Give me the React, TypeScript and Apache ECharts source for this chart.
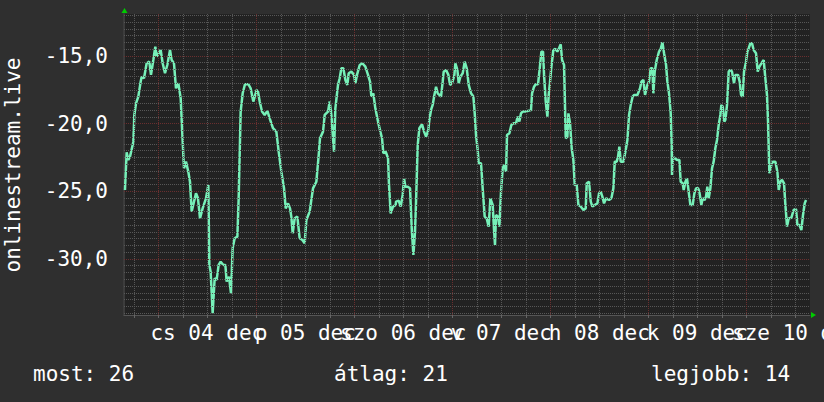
import React, { useEffect, useRef } from "react";
import * as echarts from "echarts";

// hours since 3 Dec 00:00, and readings (one block per screen slice)
const hoursA = [
  15.84, 16.25, 16.66, 17.07, 17.72, 17.89, 18.13, 18.54, 19.11, 19.68,
  19.93, 20.5, 21.15, 21.8, 22.21, 22.78, 23.27, 23.6, 24.58, 25.07,
  25.64, 26.21, 26.87, 27.27, 27.84, 28.33, 28.91, 29.48, 29.89, 30.29,
  30.78, 31.35, 31.76, 32.17, 33.23, 33.72, 34.21, 34.86, 35.68, 36.25,
  36.5, 36.82, 37.31, 37.8, 38.29, 38.78, 39.27, 39.93, 40.42, 40.74,
  41.31, 41.8, 42.21, 42.7, 43.36, 43.68, 44.17, 44.66, 45.23, 46.05,
  46.62, 47.27, 48.09,
];
const valuesA = [
  -24.9, -22.12, -22.68, -22.44, -21.58, -21.33, -19.36, -18.5, -18.0, -16.9,
  -16.53, -16.65, -15.54, -15.42, -16.4, -15.3, -14.31, -15.05, -14.56, -15.54,
  -16.28, -15.67, -14.56, -15.3, -15.54, -17.39, -17.02, -18.13, -20.84, -23.3,
  -22.81, -23.55, -24.29, -26.5, -25.15, -25.52, -27.0, -26.26, -25.52, -24.53,
  -30.44, -30.94, -34.01, -31.43, -31.55, -30.44, -30.2, -30.44, -30.44, -31.67,
  -31.31, -32.54, -29.21, -28.47, -28.35, -25.52, -19.11, -17.76, -17.09, -17.09,
  -17.39, -18.37, -17.51,
];
const hoursB = [
  48.42, 48.83, 49.4, 50.05, 50.71, 51.28, 52.09, 52.91, 53.48, 54.13,
  54.79, 55.2, 55.77, 56.26, 56.58, 56.91, 57.4, 58.05, 58.62, 59.28,
  59.85, 60.26, 61.07, 61.89, 62.71, 63.28, 63.6, 64.34, 64.75, 65.56,
  65.97, 66.38, 67.03, 67.36, 68.01, 68.42, 68.83, 69.32, 69.81, 70.3,
  70.62, 71.28, 71.93, 72.26, 72.66, 73.32, 73.97, 74.71, 75.36, 75.85,
  76.18, 76.66, 77.15, 77.81, 78.38, 78.79, 79.11, 79.69, 80.26, 80.5,
  80.91, 81.48, 82.13,
];
const valuesB = [
  -17.64, -18.37, -19.11, -19.36, -19.06, -19.61, -20.34, -20.59, -22.07, -23.55,
  -24.78, -26.26, -25.89, -26.26, -26.87, -28.1, -27.0, -26.87, -28.47, -28.6,
  -28.84, -27.12, -26.5, -24.78, -24.29, -22.32, -21.08, -20.59, -19.36, -19.11,
  -18.37, -19.36, -22.07, -18.87, -17.14, -16.65, -15.91, -15.91, -16.77, -17.14,
  -16.28, -16.16, -16.4, -17.02, -16.4, -15.67, -15.54, -15.79, -16.4, -16.9,
  -18.0, -17.76, -18.87, -19.85, -20.59, -21.08, -22.19, -22.07, -22.56, -24.53,
  -26.63, -26.13, -26.01,
];
const hoursC = [
  82.22, 82.87, 83.36, 83.85, 84.18, 84.51, 85.08, 85.65, 86.06, 86.47,
  86.87, 87.12, 87.53, 87.93, 88.59, 89.08, 89.57, 90.14, 90.38, 90.79,
  91.2, 91.61, 92.02, 92.42, 92.83, 93.24, 93.65, 93.89, 94.46, 95.04,
  95.44, 95.93, 96.51, 96.75, 97.24, 97.57, 97.98, 98.55, 99.04, 99.53,
  100.02, 100.59, 101.16, 101.49, 101.81, 102.22, 102.46, 103.04, 103.44, 103.93,
  104.42, 104.91, 105.32, 105.89, 106.22, 106.46, 106.71, 107.2, 107.53, 107.93,
  108.34, 108.75, 109.16, 109.4, 109.98, 110.46, 110.96, 111.61, 112.02, 112.42,
  112.83, 113.24, 114.06, 114.71, 115.28, 115.53,
];
const valuesC = [
  -25.76, -25.69, -26.13, -25.27, -24.04, -24.66, -24.66, -24.78, -27.73, -29.7,
  -27.98, -25.76, -21.58, -20.34, -20.05, -20.59, -20.96, -20.47, -19.73, -18.99,
  -18.62, -17.88, -17.27, -17.76, -17.88, -18.0, -16.9, -16.16, -16.03, -16.4,
  -17.14, -17.02, -16.4, -15.54, -16.03, -17.02, -16.53, -16.28, -15.42, -15.91,
  -17.14, -17.76, -18.0, -19.24, -20.84, -21.95, -22.93, -22.93, -24.78, -26.87,
  -27.0, -27.61, -25.52, -26.01, -27.86, -28.97, -26.75, -26.87, -27.61, -25.02,
  -23.3, -23.05, -23.55, -20.84, -20.71, -20.1, -19.98, -19.98, -19.48, -19.85,
  -19.24, -19.11, -19.11, -19.04, -18.99, -17.76,
];
const hoursD = [
  116.02, 116.43, 117.0, 117.41, 117.82, 118.22, 118.47, 118.88, 119.29, 119.61,
  119.94, 120.27, 120.75, 121.24, 121.73, 122.14, 122.55, 122.88, 123.37, 123.78,
  124.18, 124.43, 124.84, 125.24, 125.65, 125.98, 126.47, 126.88, 127.45, 128.1,
  128.67, 128.92, 129.49, 129.9, 130.31, 130.88, 131.53, 131.94, 132.35, 132.75,
  133.16, 133.65, 134.39, 134.96, 135.45, 135.78, 136.26, 136.59, 136.92, 137.24,
  137.9, 138.47, 138.88, 139.29, 139.69, 140.18, 140.51, 141.33, 141.98, 142.31,
  142.8, 143.2, 143.78, 144.18, 144.59, 145.0, 145.24, 145.57, 146.06, 146.63,
  147.04, 147.45, 147.86, 148.35, 148.67, 149.08, 149.49, 149.73,
];
const valuesD = [
  -17.27, -17.09, -17.09, -15.91, -14.68, -14.68, -16.4, -18.37, -19.48, -17.88,
  -16.9, -15.79, -14.56, -14.48, -14.68, -14.43, -14.14, -15.3, -15.67, -21.08,
  -20.96, -19.24, -19.98, -21.82, -22.68, -24.53, -24.53, -26.01, -26.13, -26.38,
  -26.26, -24.41, -24.29, -25.76, -26.13, -26.01, -25.89, -25.15, -25.02, -25.39,
  -25.89, -25.52, -25.64, -25.52, -24.78, -22.81, -22.81, -22.44, -21.7, -22.81,
  -22.81, -21.95, -21.21, -19.36, -18.62, -18.0, -17.88, -17.88, -17.39, -16.9,
  -16.77, -17.88, -17.14, -16.9, -15.91, -15.91, -17.76, -16.16, -15.3, -14.68,
  -14.48, -13.99, -14.8, -15.67, -16.9, -17.76, -19.24, -21.58,
];
const hoursE = [
  149.81, 150.05, 150.46, 151.03, 151.61, 151.93, 152.42, 152.67, 153.08, 153.48,
  153.89, 154.3, 154.87, 155.28, 155.69, 156.18, 156.5, 156.99, 157.32, 157.81,
  158.14, 158.46, 158.79, 159.2, 159.61, 160.01, 160.42, 160.83, 161.24, 161.65,
  161.89, 162.22, 162.63, 162.87, 163.28, 163.69, 164.1, 164.5, 164.99, 165.32,
  165.97, 166.38, 166.71, 167.12, 167.44, 167.93, 168.26, 168.59, 169.0, 169.4,
  169.81, 170.38, 170.79, 171.2, 171.69, 172.26, 172.67, 173.07, 173.32, 173.65,
  174.14, 174.47, 175.12, 175.61, 175.94, 176.34, 176.75, 177.24, 177.57, 177.98,
  178.38, 179.04, 179.61, 180.18, 180.51, 181.0, 181.49, 181.89, 182.3, 182.63,
];
const valuesE = [
  -23.79, -22.44, -22.56, -22.68, -22.68, -24.29, -24.41, -24.9, -24.29, -24.04,
  -25.02, -26.01, -26.01, -25.15, -24.78, -24.78, -25.02, -26.01, -25.52, -25.64,
  -25.39, -24.66, -25.52, -24.78, -23.3, -22.81, -21.82, -21.21, -20.1, -19.36,
  -18.62, -18.74, -19.85, -19.73, -18.62, -16.16, -16.03, -16.16, -17.02, -16.4,
  -16.4, -16.9, -17.88, -18.0, -16.16, -15.42, -14.68, -14.43, -14.06, -14.06,
  -14.56, -14.8, -16.16, -15.79, -15.54, -15.3, -16.65, -17.88, -19.85, -23.67,
  -23.05, -22.81, -22.81, -23.55, -24.9, -24.29, -24.16, -24.41, -26.01, -27.61,
  -27.0, -26.95, -26.38, -26.31, -27.49, -27.49, -27.86, -26.75, -25.89, -25.64,
];

// axis labels (centered at noon of each day)
const dayLabelHours = [36, 60, 84, 108, 132, 156, 180];
const dayLabels = ["cs 04 dec", "p 05 dec", "szo 06 dec", "v 07 dec", "h 08 dec", "k 09 dec", "sze 10 dec"];
const yLabelValues = [-30, -25, -20, -15];
const yMajorLines = [-30, -25, -20, -15];
const xMajorLines = [24, 48, 72, 96, 120, 144, 168];
const statNames = ["most", "átlag", "legjobb"];
const statValues = [26, 21, 14];
const yAxisTitle = "onlinestream.live";

const X_MIN = 15.6;
const X_MAX = 183.6;
const Y_MIN = -34.14;
const Y_MAX = -11.9;

const FONT = '"DejaVu Sans Mono", monospace';

export default function App() {
  const ref = useRef<HTMLDivElement>(null);
  useEffect(() => {
    if (!ref.current) return;
    const chart = echarts.init(ref.current, null, { renderer: "svg" });
    const hours = [...hoursA, ...hoursB, ...hoursC, ...hoursD, ...hoursE];
    const vals = [...valuesA, ...valuesB, ...valuesC, ...valuesD, ...valuesE];
    const data = hours.map((h, i) => [h, vals[i]]);

    const yMinor: number[] = [];
    for (let v = -34; v <= -12; v += 0.5) if (!yMajorLines.includes(v)) yMinor.push(v);
    const xMinor: number[] = [];
    for (let h = 18; h < X_MAX; h += 6) if (!xMajorLines.includes(h)) xMinor.push(h);
    const xTicks: number[] = [];
    for (let h = 18; h < X_MAX; h += 6) xTicks.push(h);

    const minorStyle = { color: "#575757", width: 1, type: [1, 1] as any };
    const majorStyle = { color: "#6a2f2f", width: 1, type: [1, 1] as any };

    const statX = [33, 334, 651];

    const labelFor = (v: number) => {
      const i = dayLabelHours.findIndex((h) => Math.abs(h - v) < 0.01);
      return i >= 0 ? dayLabels[i] : "";
    };
    const evenLabelHours = dayLabelHours.filter((_, i) => i % 2 === 0);
    const oddLabelHours = dayLabelHours.filter((_, i) => i % 2 === 1);

    const labelStyle = {
      formatter: labelFor,
      color: "#ffffff",
      fontSize: 21,
      fontFamily: FONT,
      margin: 7,
      hideOverlap: false,
    };

    chart.setOption({
      animation: false,
      backgroundColor: "#2f2f2f",
      textStyle: { fontFamily: FONT },
      grid: {
        left: 124,
        right: 14,
        top: 14,
        bottom: 87,
        show: true,
        backgroundColor: "#222222",
        borderWidth: 0,
        containLabel: false,
        outerBoundsMode: "none",
      },
      xAxis: [
        {
          type: "value",
          min: X_MIN,
          max: X_MAX,
          axisLine: { show: true, onZero: false, lineStyle: { color: "#555555", width: 1 } },
          axisTick: { show: true, customValues: xTicks, length: 3, lineStyle: { color: "#666666" } },
          splitLine: { show: false },
          axisLabel: { ...labelStyle, customValues: evenLabelHours },
        },
        {
          type: "value",
          position: "bottom",
          min: X_MIN,
          max: X_MAX,
          axisLine: { show: false, onZero: false },
          axisTick: { show: false },
          splitLine: { show: false },
          axisLabel: { ...labelStyle, customValues: oddLabelHours },
        },
      ],
      yAxis: {
        type: "value",
        min: Y_MIN,
        max: Y_MAX,
        axisLine: { show: true, onZero: false, lineStyle: { color: "#3c3c3c", width: 2 } },
        axisTick: { show: false },
        splitLine: { show: false },
        axisLabel: {
          customValues: yLabelValues,
          formatter: (v: number) => v.toFixed(1).replace(".", ","),
          color: "#ffffff",
          fontSize: 21,
          fontFamily: FONT,
          margin: 16,
        },
      },
      series: [
        {
          type: "line",
          data: [],
          z: 1,
          silent: true,
          xAxisIndex: 0,
          markLine: {
            silent: true,
            symbol: ["none", "none"],
            label: { show: false },
            animation: false,
            data: [
              ...yMinor.map((v) => ({ yAxis: v, lineStyle: minorStyle })),
              ...xMinor.map((h) => ({ xAxis: h, lineStyle: minorStyle })),
              ...yMajorLines.map((v) => ({ yAxis: v, lineStyle: majorStyle })),
              ...xMajorLines.map((h) => ({ xAxis: h, lineStyle: majorStyle })),
            ],
          },
        },
        {
          type: "line",
          data,
          z: 3,
          xAxisIndex: 0,
          showSymbol: false,
          symbol: "none",
          lineStyle: { color: "#76f0b8", width: 2.5 },
          silent: true,
        },
      ],
      graphic: [
        {
          type: "text",
          x: 13,
          y: 165,
          rotation: Math.PI / 2,
          style: {
            text: yAxisTitle,
            fill: "#ffffff",
            font: `21px ${FONT}`,
            textAlign: "center",
            textVerticalAlign: "middle",
            align: "center",
            verticalAlign: "middle",
          },
        },
        {
          type: "polygon",
          shape: { points: [[121.5, 13], [127.5, 13], [124.5, 8]] },
          style: { fill: "#00cc00" },
        },
        {
          type: "polygon",
          shape: { points: [[811, 312], [811, 318], [816, 315]] },
          style: { fill: "#00cc00" },
        },
        ...statNames.map((n, i) => ({
          type: "text",
          x: statX[i],
          y: 374,
          style: {
            text: `${n}: ${statValues[i]}`,
            fill: "#ffffff",
            font: `21px ${FONT}`,
            textAlign: "left",
            textVerticalAlign: "middle",
            align: "left",
            verticalAlign: "middle",
          },
        })),
      ],
    });
    return () => chart.dispose();
  }, []);
  return (
    <div
      ref={ref}
      style={{ position: "absolute", left: 0, top: 0, width: 824, height: 402 }}
    />
  );
}
